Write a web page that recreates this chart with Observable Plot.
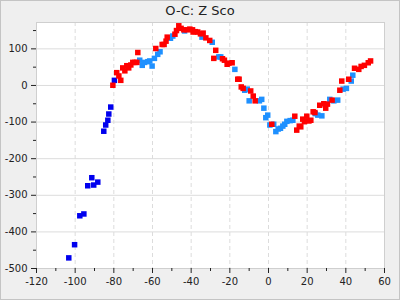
<!DOCTYPE html>
<html>
<head>
<meta charset="utf-8">
<script src="https://cdn.jsdelivr.net/npm/d3@7"></script>
<script src="https://cdn.jsdelivr.net/npm/@observablehq/plot@0.6"></script>
<style>
  html, body { margin: 0; padding: 0; }
  #box { width: 400px; height: 300px; box-sizing: border-box; border: 1px solid #c4c4c4; background: #efefef; font-family: "DejaVu Sans", sans-serif; overflow: hidden; }
  #title { height: 19px; line-height: 19px; text-align: center; font-size: 13px; color: #222; }
</style>
</head>
<body>
<div id="box">
  <div id="title">O-C: Z Sco</div>
  <div id="chart"></div>
</div>
<script>
const titleText = "O-C: Z Sco";

const darkX = [-103.3, -100.3, -97.6, -95.5, -93.5, -91.4, -90.4, -88.3, -85.2, -84.2, -83.1, -82.6, -81.6, -79.7];
const darkY = [-471, -435, -356, -351, -274, -252, -272, -264, -125, -108, -95, -78, -59, 14];

const lightX = [-66.6, -65.3, -64.1, -62.4, -61.4, -60.2, -59.0, -57.3, -56.1, -50.7, -49.5, -43.4, -34.4, -29.1, -25.7, -24.7,
  -17.4, -12.3, -11.0, -10.0, -4.7, -3.5, -2.4, -1.4, -0.4, 0.7, 2.7, 3.8, 5.0, 6.2, 7.4, 8.4, 9.5, 11.2, 12.6,
  24.2, 25.5, 27.6, 31.7, 33.8, 35.8, 38.6, 40.3, 42.8, 43.6];
const lightY = [69, 55, 63, 65, 67, 53, 74, 85, 92, 129, 135, 149, 132, 118, 78, 78,
  44, -13, -10, -42, -42, -38, -62, -88, -81, -108, -106, -126, -119, -117, -111, -106, -98, -96, -95,
  -77, -81, -83, -38, -42, -40, -10, -8, 12, 28];

const redX = [-80.5, -78.5, -77.4, -76.4, -75.4, -74.3, -73.3, -72.3, -71.2, -70.2, -69.1, -68.1, -67.6, -58.3, -55.0, -54.0, -53.0, -52.4,
  -48.4, -47.6, -46.4, -45.2, -43.8, -42.1, -40.7, -39.3, -39.0, -37.8, -36.6, -35.2, -33.8, -32.4, -30.4, -27.3, -28.3,
  -23.8, -22.8, -21.4, -20.5, -18.8, -15.9, -15.2, -14.1, -13.1, -9.2, -7.9, -6.9, 1.7,
  13.6, 14.6, 15.9, 16.7, 17.7, 18.6, 19.8, 20.9, 21.9, 23.1, 24.0, 26.5, 28.6, 29.6, 30.5, 32.9,
  36.9, 37.9, 41.5, 44.5, 46.7, 47.9, 49.6, 51.6, 52.8];
const redY = [0.5, 35, 26, 14, 48, 40, 54, 48, 56, 63, 63, 63, 90, 101, 112, 112, 121, 132,
  140, 150, 163, 156, 152, 152, 154, 152, 146, 147, 146, 141, 143, 130, 123, 96, 74,
  73, 69, 58, 61, 62, 17, 17, -4, -8, -15, -29, -42, -106,
  -84, -122, -111, -113, -92, -99, -84, -97, -95, -72, -74, -54, -50, -62, -51, -40,
  -13, 12, 17, 47, 44, 52, 55, 62, 67];

const xMajor = [-120, -100, -80, -60, -40, -20, 0, 20, 40, 60];
const xMinor = [-110, -90, -70, -50, -30, -10, 10, 30, 50];
const yMajor = [-500, -400, -300, -200, -100, 0, 100];
const yMinor = [-450, -350, -250, -150, -50, 50, 150];

const toRows = (xs, ys) => xs.map((x, i) => ({x, y: ys[i]}));
const dark = toRows(darkX, darkY);
const light = toRows(lightX, lightY);
const red = toRows(redX, redY);

const chart = Plot.plot({
  width: 398,
  height: 280,
  marginTop: 2,
  marginBottom: 32,
  marginLeft: 35,
  marginRight: 15,
  style: {background: "transparent", fontFamily: "DejaVu Sans", fontSize: "10px", color: "#222", overflow: "visible"},
  x: {domain: [-120, 60], axis: null, label: null},
  y: {domain: [-500, 172], axis: null, label: null},
  marks: [
    Plot.frame({fill: "white", stroke: null}),
    Plot.gridY(yMajor, {stroke: "#dcdcdc", strokeOpacity: 1, strokeWidth: 1}),
    Plot.gridX(xMajor, {stroke: "#dcdcdc", strokeOpacity: 1, strokeWidth: 1, strokeDasharray: "4,3"}),
    Plot.frame({stroke: "#cfcfcf"}),
    Plot.axisY(yMajor, {tickSize: 5, tickPadding: 4, tickFormat: d => String(d), fontSize: 10, stroke: "#222", label: null}),
    Plot.axisY(yMinor, {tickSize: 3, tickFormat: () => "", stroke: "#222", label: null}),
    Plot.axisX(xMajor, {tickSize: 5, tickPadding: 4, tickFormat: d => String(d), fontSize: 10, stroke: "#222", label: null}),
    Plot.axisX(xMinor, {tickSize: 3, tickFormat: () => "", stroke: "#222", label: null}),
    Plot.dot(dark, {x: "x", y: "y", symbol: "square", r: 3.1, fill: "#0000ee", stroke: null}),
    Plot.dot(light, {x: "x", y: "y", symbol: "square", r: 3.1, fill: "#1e90ff", stroke: null}),
    Plot.dot(red, {x: "x", y: "y", symbol: "square", r: 3.1, fill: "#ff0000", stroke: null})
  ]
});
document.getElementById("chart").appendChild(chart);
</script>
</body>
</html>
